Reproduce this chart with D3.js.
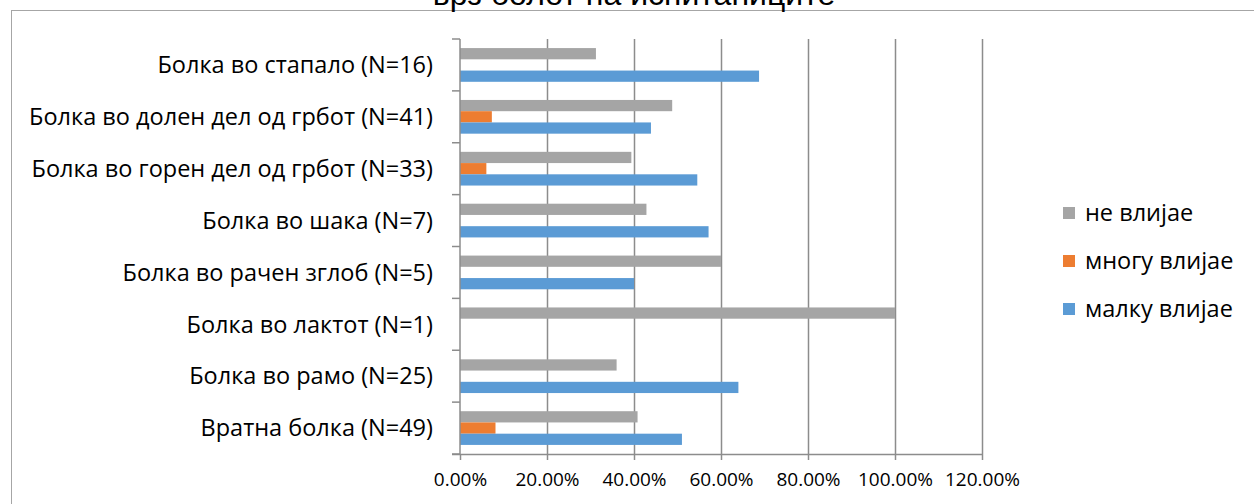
<!DOCTYPE html>
<html>
<head>
<meta charset="utf-8">
<script src="https://cdn.jsdelivr.net/npm/d3@7"></script>
<style>
	body { margin: 0; background: #fff; }
	svg { display: block; }
	text { font-family: "Open Sans", sans-serif; fill: #000; }
</style>
</head>
<body>
<div id="chart"></div>
<script>
'use strict';

// categories, bottom to top as in the picture
var categories = [
	"Вратна болка (N=49)",
	"Болка во рамо (N=25)",
	"Болка во лактот (N=1)",
	"Болка во рачен зглоб (N=5)",
	"Болка во шака (N=7)",
	"Болка во горен дел од грбот (N=33)",
	"Болка во долен дел од грбот (N=41)",
	"Болка во стапало (N=16)"
];

var seriesNames = ["не влијае", "многу влијае", "малку влијае"];
var seriesColors = ["#A5A5A5", "#ED7D31", "#5B9BD5"];

// shares, in the same order as categories
var neVlijae = [0.4082, 0.36, 1.0, 0.6, 0.4286, 0.3939, 0.4878, 0.3125];
var mnoguVlijae = [0.0816, 0, 0, 0, 0, 0.0606, 0.0732, 0];
var malkuVlijae = [0.5102, 0.64, 0, 0.4, 0.5714, 0.5455, 0.439, 0.6875];

var xTicks = [0, 0.2, 0.4, 0.6, 0.8, 1.0, 1.2];

var title = "врз болот на испитаниците";

var W = 1254, H = 504;
var plot = { left : 460, right : 982, top : 39, bottom : 454 };

var svg = d3.select("#chart").append("svg").//
attr("width", W).//
attr("height", H);

// chart frame
svg.append("rect").//
attr("x", 11.5).//
attr("y", 10.5).//
attr("width", W + 20).//
attr("height", H + 20).//
attr("fill", "none").//
attr("stroke", "#A6A6A6").//
attr("stroke-width", 1);

// title, its upper part lies above the window as in the source
svg.append("text").//
attr("x", 634).//
attr("y", 5).//
attr("text-anchor", "middle").//
style("font-family", "'Liberation Sans', Arial, sans-serif").//
style("font-size", "32px").//
text(title);

var x = d3.scaleLinear().domain([0, 1.2]).range([plot.left, plot.right]);

var y = d3.scaleBand().//
domain(categories.slice().reverse()).//
range([plot.top, plot.bottom]).//
paddingInner(0.35).//
paddingOuter(0.175);

var ySub = d3.scaleBand().domain(seriesNames).range([0, y.bandwidth()]);

// vertical gridlines
svg.append("g").selectAll("line").//
data(xTicks.slice(1)).//
enter().append("line").//
attr("x1", function(d) { return x(d) + 0.5; }).//
attr("x2", function(d) { return x(d) + 0.5; }).//
attr("y1", plot.top).//
attr("y2", plot.bottom).//
attr("stroke", "#8C8C8C").//
attr("stroke-width", 1.5);

// bars
var rows = categories.map(function(c, i) {
	return { cat : c, vals : [neVlijae[i], mnoguVlijae[i], malkuVlijae[i]] };
});

var groups = svg.append("g").selectAll("g").//
data(rows).//
enter().append("g").//
attr("transform", function(d) {
	return "translate(0," + y(d.cat) + ")";
});

groups.selectAll("rect").//
data(function(d) {
	return d.vals.map(function(v, j) { return { v : v, s : seriesNames[j], c : seriesColors[j] }; });
}).//
enter().append("rect").//
attr("x", x(0)).//
attr("y", function(d) { return ySub(d.s); }).//
attr("width", function(d) { return x(d.v) - x(0); }).//
attr("height", ySub.bandwidth()).//
attr("fill", function(d) { return d.c; });

// x axis
var xAxis = d3.axisBottom(x).//
tickValues(xTicks).//
tickSize(6).//
tickPadding(13).//
tickFormat(function(d) { return d3.format(".2f")(d * 100) + "%"; });

var gx = svg.append("g").//
attr("transform", "translate(0," + plot.bottom + ")").//
call(xAxis);
gx.select(".domain").attr("stroke", "#8C8C8C").attr("stroke-width", 1.5).//
attr("d", "M" + (plot.left - 8) + ",0.5H" + (plot.right + 1));
gx.selectAll(".tick line").attr("stroke", "#8C8C8C").attr("stroke-width", 1.5);
gx.selectAll(".tick text").style("font-family", "'Open Sans', sans-serif").style("font-size", "19px").attr("fill", "#000");

// y axis: boundary ticks between categories
var gy = svg.append("g");
gy.append("line").//
attr("x1", plot.left).attr("x2", plot.left).//
attr("y1", plot.top).attr("y2", plot.bottom).//
attr("stroke", "#8C8C8C").attr("stroke-width", 1.5);

var bounds = d3.range(categories.length + 1).map(function(i) { return plot.top + i * (plot.bottom - plot.top) / categories.length; });
gy.selectAll("line.tk").//
data(bounds).//
enter().append("line").//
attr("class", "tk").//
attr("x1", plot.left - 8).attr("x2", plot.left).//
attr("y1", function(d) { return d; }).attr("y2", function(d) { return d; }).//
attr("stroke", "#8C8C8C").attr("stroke-width", 1.5);

gy.selectAll("text").//
data(categories).//
enter().append("text").//
attr("x", plot.left - 27).//
attr("y", function(d) { return y(d) + y.bandwidth() / 2; }).//
attr("dy", "0.35em").//
attr("text-anchor", "end").//
style("font-size", "23.5px").//
text(function(d) { return d; });

// legend
var legend = svg.append("g").selectAll("g").//
data(seriesNames).//
enter().append("g").//
attr("transform", function(d, i) { return "translate(1063," + (213 + i * 48) + ")"; });

legend.append("rect").//
attr("x", 0).attr("y", -6).//
attr("width", 12).attr("height", 12).//
attr("fill", function(d, i) { return seriesColors[i]; });

legend.append("text").//
attr("x", 22).//
attr("y", 0).//
attr("dy", "0.35em").//
style("font-size", "23.5px").//
text(function(d) { return d; });
</script>
</body>
</html>
